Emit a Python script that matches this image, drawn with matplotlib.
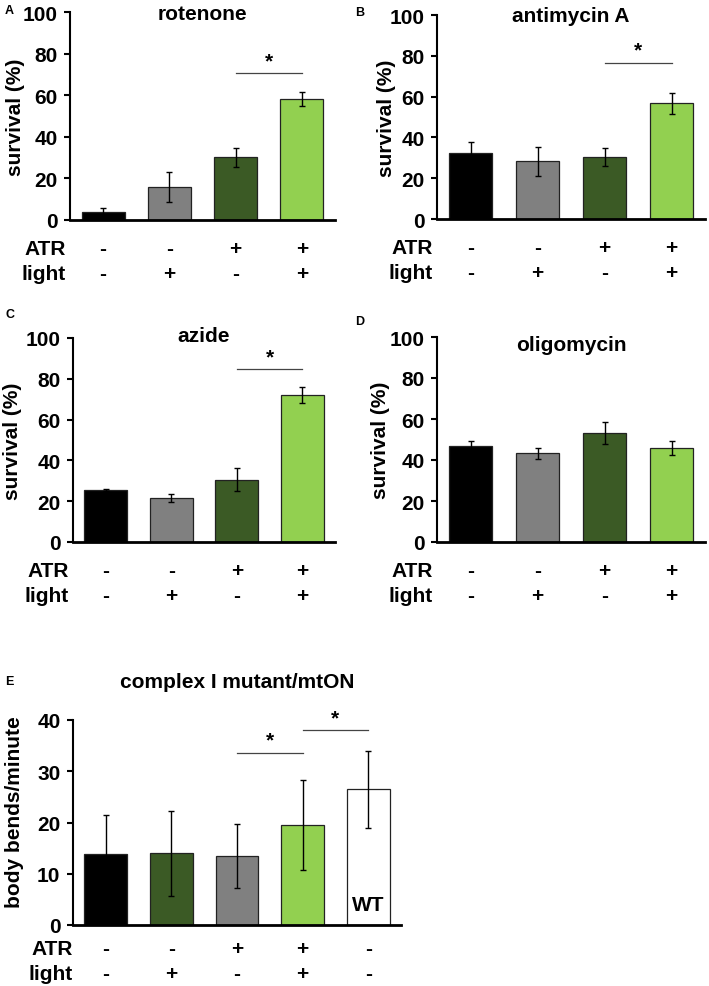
import matplotlib
matplotlib.use("Agg")
import matplotlib.pyplot as plt

plt.rcParams['font.family'] = ['Liberation Sans', 'DejaVu Sans']
plt.rcParams['font.weight'] = 'bold'

# ---- data ----
black = "#000000"
grey = "#808080"
dark_green = "#3b5a25"
light_green = "#92d050"
white = "#ffffff"

survival_colors = [black, grey, dark_green, light_green]
survival_atr = ["-", "-", "+", "+"]
survival_light = ["-", "+", "-", "+"]

rotenone_mean = [4.0, 15.8, 30.2, 58.0]
rotenone_err = [1.8, 7.3, 4.5, 3.3]

antimycin_mean = [32.5, 28.3, 30.3, 56.7]
antimycin_err = [5.3, 7.0, 4.5, 5.0]

azide_mean = [25.5, 21.5, 30.5, 72.0]
azide_err = [0.7, 2.0, 5.7, 4.0]

oligomycin_mean = [47.0, 43.2, 53.0, 45.7]
oligomycin_err = [2.3, 2.8, 5.3, 3.5]

bends_colors = [black, dark_green, grey, light_green, white]
bends_atr = ["-", "-", "+", "+", "-"]
bends_light = ["-", "+", "-", "+", "-"]
bends_mean = [13.8, 14.0, 13.5, 19.5, 26.5]
bends_err = [7.6, 8.3, 6.3, 8.7, 7.5]

W, H = 709, 987


def px(x0, y0, x1, y1):
    # pixel box (left, top, right, bottom) -> figure fraction rect
    return [x0 / W, 1 - y1 / H, (x1 - x0) / W, (y1 - y0) / H]


def draw_panel(fig, box, means, errs, colors, atr, light, title, ylabel,
               ymax, ystep, sigs, title_y, row_off, lab_dx, ylab_x, ylab_y=0.5):
    ax = fig.add_axes(px(*box))
    x = list(range(len(means)))
    ax.bar(x, means, width=0.65, color=colors, edgecolor="#222222", linewidth=0.9,
           yerr=errs, error_kw=dict(ecolor="black", elinewidth=1.0, capsize=2.5, capthick=1.0))
    ax.set_xlim(-0.5, len(means) - 0.5)
    ax.set_ylim(0, ymax)
    ax.set_yticks(range(0, ymax + 1, ystep))
    ax.set_xticks([])
    ax.spines['top'].set_visible(False)
    ax.spines['right'].set_visible(False)
    ax.spines['left'].set_linewidth(1.5)
    ax.spines['bottom'].set_linewidth(2.0)
    ax.tick_params(axis='y', direction='out', length=4, width=1.5, pad=5, labelsize=15)
    for t in ax.get_yticklabels():
        t.set_fontweight('bold')
    ax.set_ylabel(ylabel, fontsize=15, fontweight='bold', va='center')
    ax.yaxis.set_label_coords((ylab_x - box[0]) / (box[2] - box[0]), ylab_y)
    ax.text(0.5, title_y, title, transform=ax.transAxes, ha='center', va='center',
            fontsize=15, fontweight='bold')

    # significance bars
    for (i, j, h) in sigs:
        ax.plot([i, j], [h, h], color="#444444", linewidth=0.9)
        ax.text((i + j) / 2, h + ymax * 0.015, "*", ha='center', va='bottom',
                fontsize=15, fontweight='bold')

    # ATR / light rows
    for row, vals, off in (("ATR", atr, row_off[0]), ("light", light, row_off[1])):
        for xi, v in zip(x, vals):
            ax.annotate(v, xy=(xi, 0), xycoords=('data', 'axes fraction'),
                        xytext=(0, -off), textcoords='offset points',
                        ha='center', va='center', fontsize=15, fontweight='bold',
                        annotation_clip=False)
        ax.annotate(row, xy=(0, 0), xycoords='axes fraction',
                    xytext=(lab_dx, -off), textcoords='offset points',
                    ha='right', va='center', fontsize=15, fontweight='bold',
                    annotation_clip=False)
    return ax


fig = plt.figure(figsize=(W / 100, H / 100), dpi=100)

axA = draw_panel(fig, (70, 13, 335, 221), rotenone_mean, rotenone_err, survival_colors,
                 survival_atr, survival_light, "rotenone", "survival (%)", 100, 20,
                 [(2, 3, 70.5)], 0.995, (20.5, 38.5), -3, 16)
axB = draw_panel(fig, (437, 16, 705, 220), antimycin_mean, antimycin_err, survival_colors,
                 survival_atr, survival_light, "antimycin A", "survival (%)", 100, 20,
                 [(2, 3, 76.5)], 1.0, (20.5, 38.5), -3, 386)
axC = draw_panel(fig, (73, 339, 335, 543), azide_mean, azide_err, survival_colors,
                 survival_atr, survival_light, "azide", "survival (%)", 100, 20,
                 [(2, 3, 84.8)], 1.01, (20.5, 38.5), -3, 13)
axD = draw_panel(fig, (437, 338, 705, 543), oligomycin_mean, oligomycin_err, survival_colors,
                 survival_atr, survival_light, "oligomycin", "survival (%)", 100, 20,
                 [], 0.965, (20.5, 38.5), -3, 380)
axE = draw_panel(fig, (73, 721, 401, 926), bends_mean, bends_err, bends_colors,
                 bends_atr, bends_light, "complex I mutant/mtON", "body bends/minute", 40, 10,
                 [(2, 3, 33.6), (3, 4, 38.0)], 1.19, (17, 35), 0, 15, 0.555)
axE.text(4, 4, "WT", ha='center', va='center', fontsize=15, fontweight='bold')

# panel letters
for s, (xp, yp) in zip("ABCDE", [(5, 11), (355, 13), (5, 315), (355, 322), (5, 682)]):
    fig.text(xp / W, 1 - yp / H, s, fontsize=9, fontweight='bold', ha='left', va='center')

fig.savefig("out.png", dpi=100)
